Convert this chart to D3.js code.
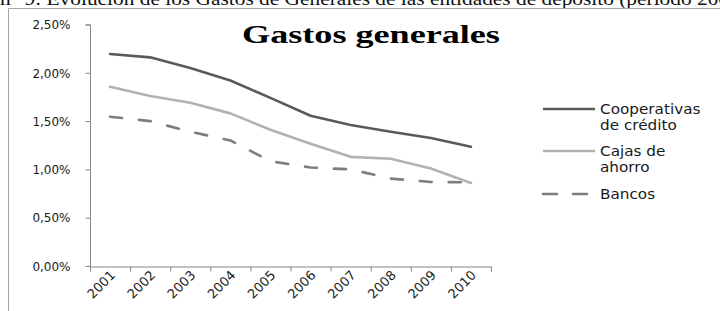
<!DOCTYPE html>
<html>
<head>
<meta charset="utf-8">
<script src="https://cdn.jsdelivr.net/npm/d3@7"></script>
<style>
  html, body { margin: 0; padding: 0; background: #fff; overflow: hidden; }
  svg { display: block; }
  .tick-label { font-family: "DejaVu Sans", sans-serif; font-size: 12px; fill: #1a1a1a; }
  .year-label { font-family: "DejaVu Sans", sans-serif; font-size: 13px; fill: #1a1a1a; }
  .legend-label { font-family: "DejaVu Sans", sans-serif; font-size: 13.5px; fill: #1a1a1a; }
</style>
</head>
<body>
<div id="chart"></div>
<script>
// Gastos generales de las entidades de depósito, 2001-2010 (%)
const years = ["2001", "2002", "2003", "2004", "2005", "2006", "2007", "2008", "2009", "2010"];
const cooperativas = [2.195, 2.16, 2.05, 1.92, 1.74, 1.555, 1.46, 1.39, 1.325, 1.235];
const cajas = [1.855, 1.76, 1.69, 1.58, 1.41, 1.265, 1.13, 1.11, 1.01, 0.86];
const bancos = [1.545, 1.50, 1.39, 1.30, 1.085, 1.02, 1.00, 0.905, 0.87, 0.865];
const yTicks = [0, 0.5, 1, 1.5, 2, 2.5];

const series = [
    { name: ["Cooperativas", "de crédito"], values: cooperativas, color: "#5a5a5a", dash: null },
    { name: ["Cajas de", "ahorro"], values: cajas, color: "#b2b2b2", dash: null },
    { name: ["Bancos"], values: bancos, color: "#7d7d7d", dash: "12 17" }
];

const width = 720;
const height = 311;

const svg = d3.select("#chart").append("svg")
    .attr("width", width)
    .attr("height", height);

// caption of the document, cut off at the top and right edges (as in the scan)
svg.append("text")
    .attr("transform", "translate(0,5) scale(1.125,1)")
    .attr("font-family", "'Liberation Serif', serif")
    .attr("font-size", 19)
    .attr("fill", "#111")
    .text("n° 9: Evolución de los Gastos de Generales de las entidades de depósito (período 2001-2010)");

// chart frame
svg.append("path")
    .attr("d", "M8.5,311 V8.5 H720")
    .attr("fill", "none")
    .attr("stroke", "#a6a6a6")
    .attr("stroke-width", 1);

const x = d3.scaleLinear().domain([0, years.length]).range([90, 491]);
const y = d3.scaleLinear().domain([0, 2.5]).range([266, 24.5]);

const fmt = v => d3.format(".2f")(v).replace(".", ",") + "%";

// y axis
const yAxis = svg.append("g")
    .attr("transform", "translate(90.5,0)")
    .call(d3.axisLeft(y).tickValues(yTicks).tickSize(5).tickPadding(4).tickFormat(fmt));
yAxis.select(".domain").attr("stroke", "#868686").attr("d", `M-5,${y(2.5) + 0.5}H0V${y(0) + 0.5}`);
yAxis.selectAll(".tick line").attr("stroke", "#868686");
yAxis.selectAll(".tick text").attr("class", "tick-label").attr("x", -20).attr("dy", "0.35em");

// x axis, ticks between categories
const xAxis = svg.append("g")
    .attr("transform", "translate(0,266.5)")
    .call(d3.axisBottom(x).tickValues(d3.range(years.length + 1)).tickSize(5).tickFormat(""));
xAxis.select(".domain").attr("stroke", "#868686");
xAxis.selectAll(".tick line").attr("stroke", "#868686");

svg.append("g")
    .selectAll("text")
    .data(years)
    .join("text")
    .attr("class", "year-label")
    .attr("text-anchor", "end")
    .attr("transform", (d, i) => `translate(${x(i + 0.5) + 6},${276}) rotate(-45)`)
    .text(d => d);

// title (the scan is stretched horizontally)
svg.append("text")
    .attr("transform", "translate(371,43) scale(1.39,1)")
    .attr("text-anchor", "middle")
    .attr("font-family", "'Liberation Serif', 'Times New Roman', serif")
    .attr("font-weight", "bold")
    .attr("font-size", 26)
    .attr("fill", "#000")
    .text("Gastos generales");

// lines
const line = d3.line()
    .x((d, i) => x(i + 0.5))
    .y(d => y(d));

svg.append("g")
    .selectAll("path")
    .data(series)
    .join("path")
    .attr("d", s => line(s.values))
    .attr("fill", "none")
    .attr("stroke", s => s.color)
    .attr("stroke-width", 2.6)
    .attr("stroke-linejoin", "round")
    .attr("stroke-linecap", "round")
    .attr("stroke-dasharray", s => s.dash);

// legend
const legendY = [109, 151, 194];
const legend = svg.append("g")
    .selectAll("g")
    .data(series)
    .join("g")
    .attr("transform", (s, i) => `translate(0,${legendY[i]})`);

legend.append("line")
    .attr("x1", 543)
    .attr("x2", 595)
    .attr("stroke", s => s.color)
    .attr("stroke-width", 2.6)
    .attr("stroke-linecap", s => s.dash ? "round" : "butt")
    .attr("stroke-dasharray", s => s.dash ? "14 16" : null);

legend.append("g")
    .attr("transform", "translate(600,5) scale(1.13,1)")
    .selectAll("text")
    .data(s => s.name)
    .join("text")
    .attr("class", "legend-label")
    .attr("y", (d, i) => i * 16)
    .text(d => d);
</script>
</body>
</html>
